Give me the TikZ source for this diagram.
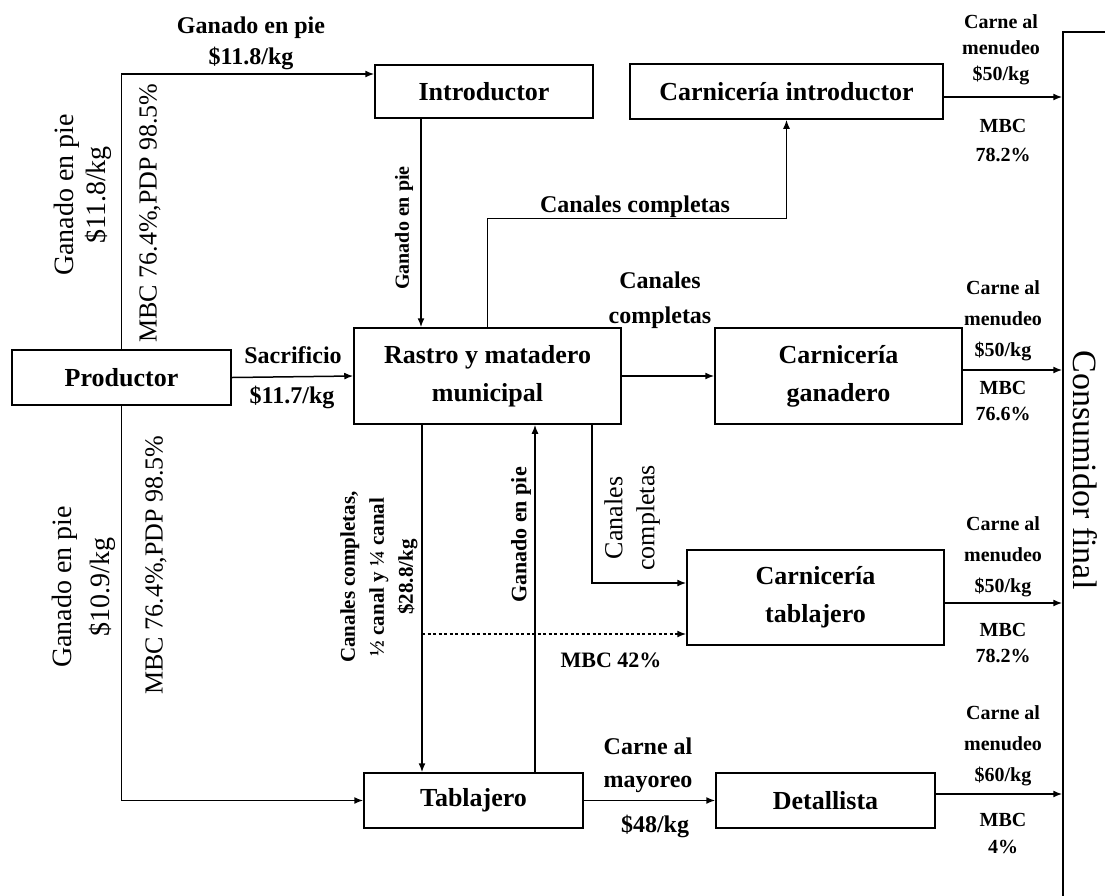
\documentclass[tikz,border=0pt]{standalone}
\usepackage{fontspec}
\setmainfont{Liberation Serif}
\usetikzlibrary{arrows.meta}
\tikzset{
  box/.style={draw,line width=1.5pt,inner sep=0pt,align=center,font=\bfseries\fontsize{26}{38}\selectfont},
  arr/.style={line width=1.5pt,-{Latex[length=9pt,width=7pt]}},
  tag/.style={inner sep=0pt,align=center,font=\bfseries\fontsize{24}{33}\selectfont},
  note/.style={inner sep=0pt,align=center,font=\bfseries\fontsize{20}{31}\selectfont},
  side/.style={inner sep=0pt,align=center,rotate=90,font=\fontsize{28}{32}\selectfont}
}
\begin{document}
\begin{tikzpicture}[x=1pt,y=-1pt]
\useasboundingbox (0,0) rectangle (1105,895);
\node (prod) at (121.5,377.5) [box,minimum width=219pt,minimum height=55pt] {Productor};
\node (intro) at (484,91.5) [box,minimum width=218pt,minimum height=53pt] {Introductor};
\node (cintro) at (786.5,91.5) [box,minimum width=313pt,minimum height=55pt] {Carnicería introductor};
\node (rastro) at (487.5,376) [box,minimum width=267pt,minimum height=96pt] {Rastro y matadero\\municipal};
\node (cgan) at (838.5,376) [box,minimum width=247pt,minimum height=96pt] {Carnicería\\ganadero};
\node (ctab) at (815.5,597.5) [box,minimum width=257pt,minimum height=95pt] {Carnicería\\tablajero};
\node (tabl) at (473.5,800.5) [box,minimum width=219pt,minimum height=55pt] {Tablajero};
\node (detal) at (825.5,800.5) [box,minimum width=219pt,minimum height=55pt] {Detallista};
\node (cons) at (1104,473) [draw,line width=1.5pt,minimum width=82pt,minimum height=882pt] {};
\node (consl) at (1085,470) [inner sep=0pt,rotate=-90,font=\fontsize{34}{40}\selectfont] {Consumidor final};
\coordinate (dot) at (422,634);

\draw[arr] (prod.north) |- ([yshift=17.5pt]intro.west);
\draw[arr] (prod.east) -- (rastro.west);
\draw[arr] (prod.south) |- (tabl.west);
\draw[arr] ([xshift=-63pt]intro.south) -- ([xshift=-63pt]intro.south |- rastro.north);
\draw[arr] (rastro.north) -- ++(0,-109) -| (cintro.south);
\draw[arr] (rastro.east) -- (cgan.west);
\draw[arr] ([xshift=-65.5pt]rastro.south) -- ([xshift=-65.5pt]rastro.south |- tabl.north);
\draw[arr] ([xshift=61.5pt]tabl.north) -- ([xshift=61.5pt]tabl.north |- rastro.south);
\draw[arr] ([xshift=104.5pt]rastro.south) |- ([yshift=14.5pt]ctab.west);
\draw[line width=2.5pt,dash pattern=on 3pt off 2.5pt] (dot) -- ([xshift=-8pt,yshift=-36.5pt]ctab.west);
\draw[arr] ([xshift=-9pt,yshift=-36.5pt]ctab.west) -- ([yshift=-36.5pt]ctab.west);
\draw[arr] (tabl.east) -- (detal.west);
\draw[arr] ([yshift=-5.5pt]cintro.east) -- ([yshift=-5.5pt]cintro.east -| cons.west);
\draw[arr] ([yshift=6pt]cgan.east) -- ([yshift=6pt]cgan.east -| cons.west);
\draw[arr] ([yshift=-5.5pt]ctab.east) -- ([yshift=-5.5pt]ctab.east -| cons.west);
\draw[arr] ([yshift=6.5pt]detal.east) -- ([yshift=6.5pt]detal.east -| cons.west);

\node (l1) at (251,43.5) [tag,font=\bfseries\fontsize{24}{31}\selectfont] {Ganado en pie\\\$11.8/kg};
\node (l2) at (83,195) [side] {Ganado en pie\\\$11.8/kg};
\node (l3) at (150,213) [side,font=\fontsize{26}{30}\selectfont] {MBC 76.4\%,PDP 98.5\%};
\node (l4) at (84,587) [side,font=\fontsize{28}{38}\selectfont] {Ganado en pie\\\$10.9/kg};
\node (l5) at (156,565) [side,font=\fontsize{26}{30}\selectfont] {MBC 76.4\%,PDP 98.5\%};
\node (l6) at (293,355) [tag] {Sacrificio};
\node (l7) at (292,397) [tag] {\$11.7/kg};
\node (l8) at (404,228) [note,rotate=90] {Ganado en pie};
\node (l9) at (635,207) [tag] {Canales completas};
\node (l10) at (660,300) [tag,font=\bfseries\fontsize{24}{35}\selectfont] {Canales\\completas};
\node (l11) at (379,577) [note,rotate=90,font=\bfseries\fontsize{21}{29}\selectfont] {Canales completas,\\½ canal y ¼ canal\\\$28.8/kg};
\node (l12) at (521,535) [note,rotate=90,font=\bfseries\fontsize{22}{26}\selectfont] {Ganado en pie};
\node (l13) at (632,518) [side,font=\fontsize{26}{32}\selectfont] {Canales\\completas};
\node (l14) at (611,660) [tag,font=\bfseries\fontsize{22}{26}\selectfont] {MBC 42\%};
\node (l15) at (648,765) [tag] {Carne al\\mayoreo};
\node (l16) at (655,826) [tag] {\$48/kg};
\node (r1) at (1001,50) [note,font=\bfseries\fontsize{20}{26}\selectfont] {Carne al\\menudeo\\\$50/kg};
\node (r2) at (1003,141) [note,font=\bfseries\fontsize{20}{29}\selectfont] {MBC\\78.2\%};
\node (r3) at (1003,321) [note] {Carne al\\menudeo\\\$50/kg};
\node (r4) at (1003,401) [note,font=\bfseries\fontsize{20}{26}\selectfont] {MBC\\76.6\%};
\node (r5) at (1003,557) [note] {Carne al\\menudeo\\\$50/kg};
\node (r6) at (1003,643) [note,font=\bfseries\fontsize{20}{26}\selectfont] {MBC\\78.2\%};
\node (r7) at (1003,746) [note] {Carne al\\menudeo\\\$60/kg};
\node (r8) at (1003,833) [note,font=\bfseries\fontsize{20}{27}\selectfont] {MBC\\4\%};
\end{tikzpicture}
\end{document}
